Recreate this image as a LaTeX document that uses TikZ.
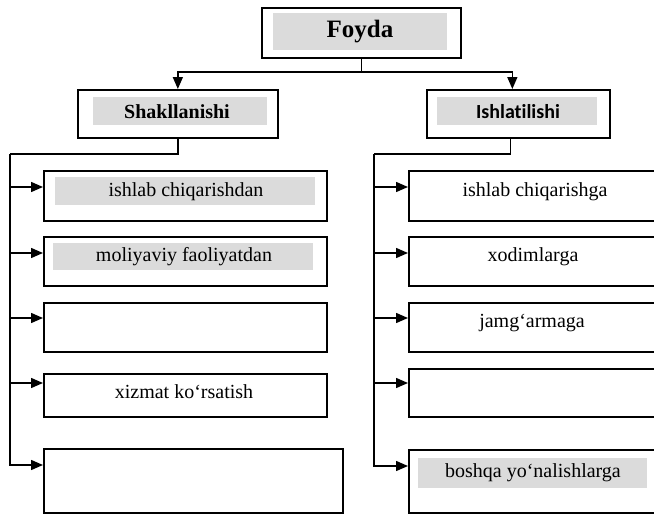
\documentclass[tikz,border=0pt]{standalone}
\usepackage{fontspec}
\setmainfont{Liberation Serif}
\newfontfamily\carl[Ligatures={NoCommon}]{Carlito}
\usetikzlibrary{arrows.meta}
\begin{document}
\begin{tikzpicture}[x=1pt,y=-1pt,
  box/.style={draw,line width=1.7pt,inner sep=0pt,anchor=north west},
  lbl/.style={inner sep=0pt,font=\fontsize{20}{24}\selectfont},
  hdr/.style={inner sep=0pt,font=\fontsize{20}{24}\selectfont\bfseries},
  conn/.style={line width=1.5pt},
  arr/.style={conn,-{Triangle[length=12pt,width=10pt]}},
  shade/.style={fill=black!14}]
\useasboundingbox (0,0) rectangle (654,514);
\clip (0,0) rectangle (654,514);
% gray halftone areas
\fill[shade] (273,13) rectangle (447,50);
\fill[shade] (93,97) rectangle (267,125);
\fill[shade] (437,97) rectangle (597,125);
\fill[shade] (55,177) rectangle (315,205);
\fill[shade] (53,243) rectangle (313,270);
\fill[shade] (418,458) rectangle (647,488);
% boxes
\node[box,minimum width=199pt,minimum height=50pt] (foyda) at (261,7) {};
\node[box,minimum width=200pt,minimum height=48pt] (shak) at (77,89) {};
\node[box,minimum width=183pt,minimum height=48pt] (ishl) at (426,89) {};
\node[box,minimum width=283pt,minimum height=50pt] (l1) at (43,170) {};
\node[box,minimum width=283pt,minimum height=49pt] (l2) at (43,236) {};
\node[box,minimum width=283pt,minimum height=49pt] (l3) at (43,302) {};
\node[box,minimum width=283pt,minimum height=43pt] (l4) at (43,373) {};
\node[box,minimum width=299pt,minimum height=64pt] (l5) at (43,448) {};
\node[box,minimum width=254pt,minimum height=50pt] (r1) at (408,170) {};
\node[box,minimum width=254pt,minimum height=49pt] (r2) at (408,236) {};
\node[box,minimum width=254pt,minimum height=49pt] (r3) at (408,302) {};
\node[box,minimum width=254pt,minimum height=48pt] (r4) at (408,368) {};
\node[box,minimum width=254pt,minimum height=63pt] (r5) at (408,449) {};
% texts
\node[hdr,font=\fontsize{25}{30}\selectfont\bfseries] (tfoyda) at (360,32) {Foyda};
\node[hdr] (tshak) at (177,112) {Shakllanishi};
\node[hdr,font=\fontsize{20}{24}\selectfont\carl\bfseries] (tishl) at (518,112) {Ishlatilishi};
\node[lbl] (tl1) at (186,192) {ishlab chiqarishdan};
\node[lbl] (tl2) at (184,257) {moliyaviy faoliyatdan};
\node[lbl] (tl4) at (184,392) {xizmat ko‘rsatish};
\node[lbl] (tr1) at (535,192) {ishlab chiqarishga};
\node[lbl] (tr2) at (533,257) {xodimlarga};
\node[lbl] (tr3) at (532,323) {jamg‘armaga};
\node[lbl] (tr5) at (533,473) {boshqa yo‘nalishlarga};
% top connectors
\coordinate (jt) at (foyda.south |- 0,72);
\draw[conn] (foyda.south) -- (jt);
\draw[arr] (jt) -| (shak.north);
\draw[arr] (jt) -| ([xshift=-6pt]ishl.north);
% left column connectors
\coordinate (jl) at (10,154);
\coordinate (a1) at (10,187);
\coordinate (a2) at (10,253);
\coordinate (a3) at (10,318);
\coordinate (a4) at (10,383);
\draw[conn] (shak.south) |- (jl);
\draw[arr] (jl) |- (l5.west |- 0,465);
\draw[arr] (a1) -- (l1.west |- a1);
\draw[arr] (a2) -- (l2.west |- a2);
\draw[arr] (a3) -- (l3.west |- a3);
\draw[arr] (a4) -- (l4.west |- a4);
% right column connectors
\coordinate (jr) at (374,154);
\coordinate (b1) at (374,187);
\coordinate (b2) at (374,253);
\coordinate (b3) at (374,318);
\coordinate (b4) at (374,383);
\draw[conn] ([xshift=-8pt]ishl.south) |- (jr);
\draw[arr] (jr) |- (r5.west |- 0,466);
\draw[arr] (b1) -- (r1.west |- b1);
\draw[arr] (b2) -- (r2.west |- b2);
\draw[arr] (b3) -- (r3.west |- b3);
\draw[arr] (b4) -- (r4.west |- b4);
\end{tikzpicture}
\end{document}
